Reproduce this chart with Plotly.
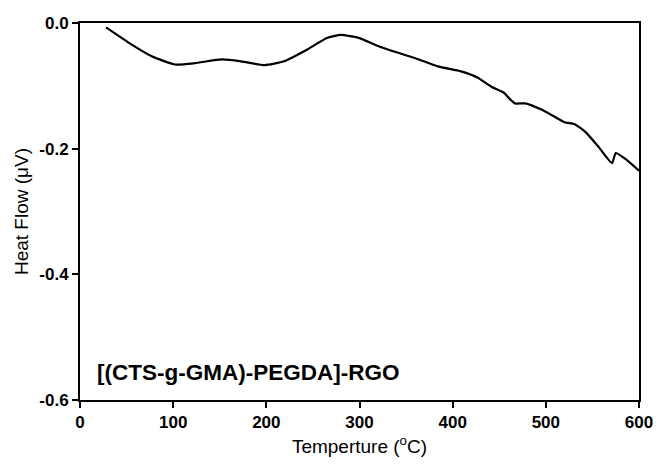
import plotly.graph_objects as go

temperature = [28, 53, 77, 102, 123, 152, 173, 198, 219, 243, 265, 280, 300, 317, 332, 360, 384, 409,
               427, 441, 455, 462, 467, 478, 494, 508, 520, 531, 543, 557, 571, 575, 585, 600]
heat_flow = [-0.007, -0.032, -0.053, -0.066, -0.064, -0.058, -0.061, -0.067, -0.061, -0.043, -0.024,
             -0.019, -0.024, -0.035, -0.043, -0.056, -0.069, -0.077, -0.087, -0.101, -0.111, -0.122,
             -0.128, -0.128, -0.137, -0.148, -0.158, -0.161, -0.174, -0.198, -0.223, -0.207, -0.216, -0.235]

x_ticks = [0, 100, 200, 300, 400, 500, 600]
y_ticks = [0.0, -0.2, -0.4, -0.6]
y_tick_labels = ["0.0", "-0.2", "-0.4", "-0.6"]
sample_label = "[(CTS-g-GMA)-PEGDA]-RGO"

FONT = "Liberation Sans, Arial, Helvetica, sans-serif"

fig = go.Figure()
fig.add_trace(go.Scatter(x=temperature, y=heat_flow, mode="lines",
                         line=dict(color="black", width=2.2, shape="spline", smoothing=0.5),
                         showlegend=False))

fig.add_annotation(x=0.026, y=0.072, xref="paper", yref="paper", xanchor="left", yanchor="middle",
                   text="<b>" + sample_label + "</b>", showarrow=False,
                   font=dict(family=FONT, size=22.5, color="black"))

axis_common = dict(showline=True, linecolor="black", linewidth=2, mirror=True,
                   ticks="outside", ticklen=6, tickwidth=2, tickcolor="black",
                   showgrid=False, zeroline=False,
                   tickfont=dict(family=FONT, size=17, color="black", weight="bold"),
                   title_font=dict(family=FONT, size=19, color="black"))

fig.update_xaxes(range=[0, 600], tickvals=x_ticks, title_text="Temperture (<sup>o</sup>C)",
                 title_standoff=8, **axis_common)
fig.update_yaxes(range=[-0.6, 0.0], tickvals=y_ticks, ticktext=y_tick_labels,
                 title_text="Heat Flow (\u03bcV)", title_standoff=6, **axis_common)

fig.update_layout(width=665, height=466, margin=dict(l=80, r=17, t=23, b=64),
                  plot_bgcolor="white", paper_bgcolor="white")

fig.write_html("out.html")
